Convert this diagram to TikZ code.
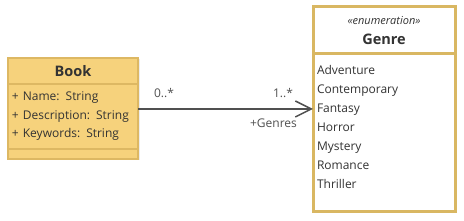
\documentclass[tikz,border=0pt]{standalone}
\usepackage{fontspec}
\setmainfont{Open Sans}
\usetikzlibrary{positioning, arrows.meta, shadows}
\definecolor{bookfill}{HTML}{F6D27C}
\definecolor{bookline}{HTML}{DDB863}
\definecolor{enumline}{HTML}{D9B762}
\definecolor{linkgray}{HTML}{505050}
\definecolor{textgray}{HTML}{333333}
\tikzset{
  bookpart/.style={
    rectangle,
    draw=bookline,
    fill=bookfill,
    line width=1.5pt,
    minimum width=130pt,
    inner sep=0pt,
    outer sep=0pt,
    text=textgray,
    drop shadow={shadow xshift=1.5pt, shadow yshift=-1.5pt, opacity=0.15}
  },
  enumpart/.style={
    rectangle,
    draw=enumline,
    fill=white,
    line width=3pt,
    minimum width=142pt,
    inner sep=0pt,
    outer sep=0pt,
    text=textgray,
    drop shadow={shadow xshift=1.5pt, shadow yshift=-1.5pt, opacity=0.15}
  },
  member/.style={
    font=\fontsize{12}{18.5}\selectfont,
    align=left
  },
  mult/.style={
    font=\fontsize{12}{14}\selectfont,
    text=linkgray
  },
  assoc/.style={
    line width=1.5pt,
    draw=linkgray,
    -{Straight Barb[length=16pt, width=16pt, line width=1.5pt]}
  }
}

\begin{document}
\begin{tikzpicture}[x=1pt, y=-1pt]
  \useasboundingbox (0,0) rectangle (464,221);

  % Book class
  \node (bookhead) [bookpart, minimum height=26pt, font=\fontsize{14.5}{16}\selectfont\bfseries] at (73,71) {Book};
  \node (bookattr) [bookpart, below=0pt of bookhead, minimum height=65pt, member, text width=122pt]
    {+ Name: String\\+ Description: String\\+ Keywords: String};
  \node (bookops) [bookpart, below=0pt of bookattr, minimum height=10pt] {};

  % Genre enumeration
  \node (genrehead) [enumpart, minimum height=47pt, align=center] at (384,30.5)
    {\fontsize{11}{13}\selectfont\itshape «enumeration»\\[8pt]\fontsize{14.5}{16}\selectfont\bfseries Genre};
  \node (genrebody) [enumpart, below=0pt of genrehead, minimum height=158pt]
    {\parbox[c][158pt][t]{134pt}{\vspace*{11pt}\fontsize{12}{19}\selectfont
      Adventure\\Contemporary\\Fantasy\\Horror\\Mystery\\Romance\\Thriller}};

  % Association
  \coordinate (linky) at (0,109);
  \draw[assoc] (bookattr.east |- linky) -- (genrebody.west |- linky)
    node[mult, pos=0, anchor=south west, xshift=12pt, yshift=7pt] {0..*}
    node[mult, pos=1, anchor=south east, xshift=-16pt, yshift=7pt] {1..*}
    node[mult, pos=1, anchor=north east, xshift=-12pt, yshift=-6pt] {+Genres};
\end{tikzpicture}
\end{document}
